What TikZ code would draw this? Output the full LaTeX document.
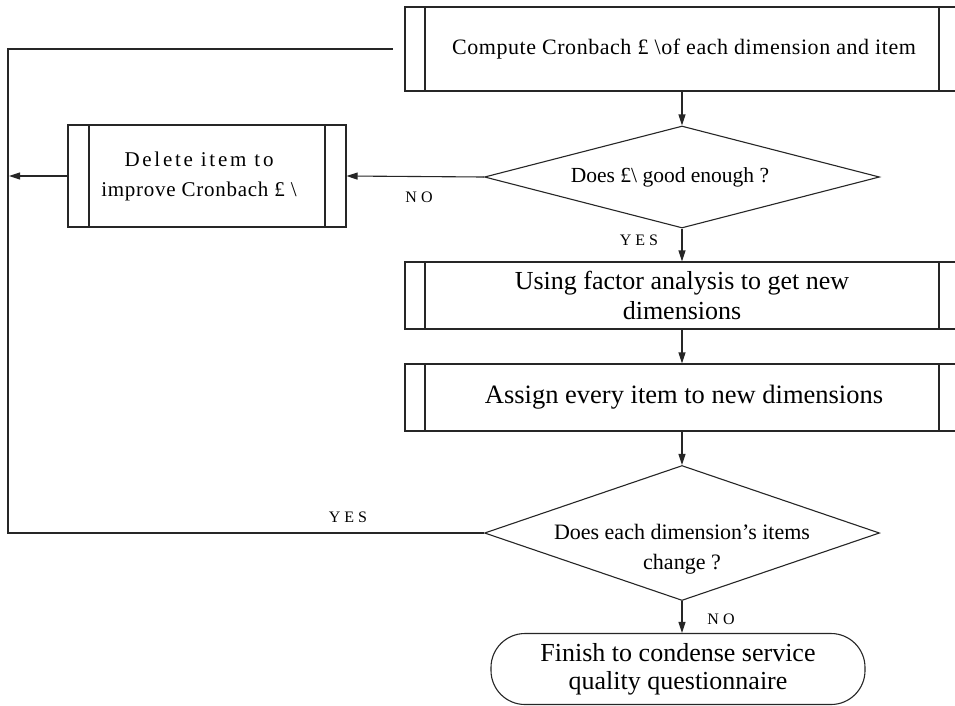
\documentclass[tikz,border=0pt]{standalone}
\usepackage{fontspec}
\setmainfont{Liberation Serif}
\usetikzlibrary{shapes.geometric,arrows.meta}
\begin{document}
\begin{tikzpicture}[x=1pt,y=-1pt,
  ln/.style={line width=1.1pt, draw=black!85},
  arr/.style={ln, -{Triangle[length=11pt,width=7pt]}},
  subproc/.style={draw=black!85, line width=1.1pt, rectangle, inner sep=0pt, align=center,
    path picture={\draw[line width=1.1pt, black!85]
      ([xshift=#1]path picture bounding box.north west) -- ([xshift=#1]path picture bounding box.south west)
      ([xshift=-#1]path picture bounding box.north east) -- ([xshift=-#1]path picture bounding box.south east);}},
  decision/.style={draw=black!85, line width=1.1pt, shape=diamond, inner sep=0pt, align=center},
  terminal/.style={draw=black!85, line width=1.1pt, rectangle, rounded corners=34pt, inner sep=0pt, align=center},
  lbl/.style={inner sep=0pt, font=\fontsize{16}{18}\selectfont\addfontfeature{LetterSpace=25}}
]
\useasboundingbox (0,0) rectangle (955,705);
\clip (0,0) rectangle (955,705);
\fill[white] (0,0) rectangle (955,705);

\node[subproc=20pt, minimum width=554pt, minimum height=84pt,
  font=\fontsize{22}{26}\selectfont\addfontfeature{LetterSpace=2.5}] (top) at (682,49)
  {\hspace*{4pt}Compute Cronbach £ \textbackslash of each dimension and item};

\node[decision, aspect=3.87, minimum width=395pt, minimum height=102pt,
  font=\fontsize{21.5}{26}\selectfont] (d1) at (682,177)
  {Does £\textbackslash\ good enough ?\hspace*{24pt}};

\node[subproc=21pt, minimum width=278pt, minimum height=102pt,
  font=\fontsize{21}{30}\selectfont] (del) at (207,176)
  {{\addfontfeature{LetterSpace=13}Delete item to}\hspace*{16pt}\\
   {\addfontfeature{LetterSpace=3.5}improve Cronbach £ \textbackslash}\hspace*{16pt}};

\node[subproc=20pt, minimum width=554pt, minimum height=67pt,
  font=\fontsize{26}{30}\selectfont] (b3) at (682,295.5)
  {Using factor analysis to get new\\dimensions};

\node[subproc=20pt, minimum width=554pt, minimum height=67pt,
  font=\fontsize{26.5}{30}\selectfont] (b4) at (682,397.5)
  {\hspace*{4pt}Assign every item to new dimensions};

\node[decision, aspect=2.93, minimum width=395pt, minimum height=135pt] (d2) at (682,533) {};
\node[inner sep=0pt, align=center, font=\fontsize{22}{30}\selectfont] (d2t) at (682,549)
  {Does each dimension’s items\\change ?};

\node[terminal, minimum width=374pt, minimum height=71pt,
  font=\fontsize{26}{28}\selectfont] (term) at (678,669)
  {Finish to condense service\\quality questionnaire};

\coordinate (lft) at (9,176);
\coordinate (corner) at (8,533);
\coordinate (topend) at (393,49);

\draw[arr] (top.south) -- (d1.north);
\draw[arr] (d1.south) -- (b3.north);
\draw[arr] (b3.south) -- (b4.north);
\draw[arr] (b4.south) -- (d2.north);
\draw[arr] (d2.south) -- (d2.south |- term.north);
\draw[arr] (d1.west) -- (del.east);
\draw[arr] (del.west) -- (lft);
\draw[ln] (d2.west) -- (corner) |- (topend);

\node[lbl] (no1) at (419,197) {NO};
\node[lbl] (yes1) at (639,240) {YES};
\node[lbl] (yes2) at (348,517) {YES};
\node[lbl] (no2) at (721,619) {NO};
\end{tikzpicture}
\end{document}
